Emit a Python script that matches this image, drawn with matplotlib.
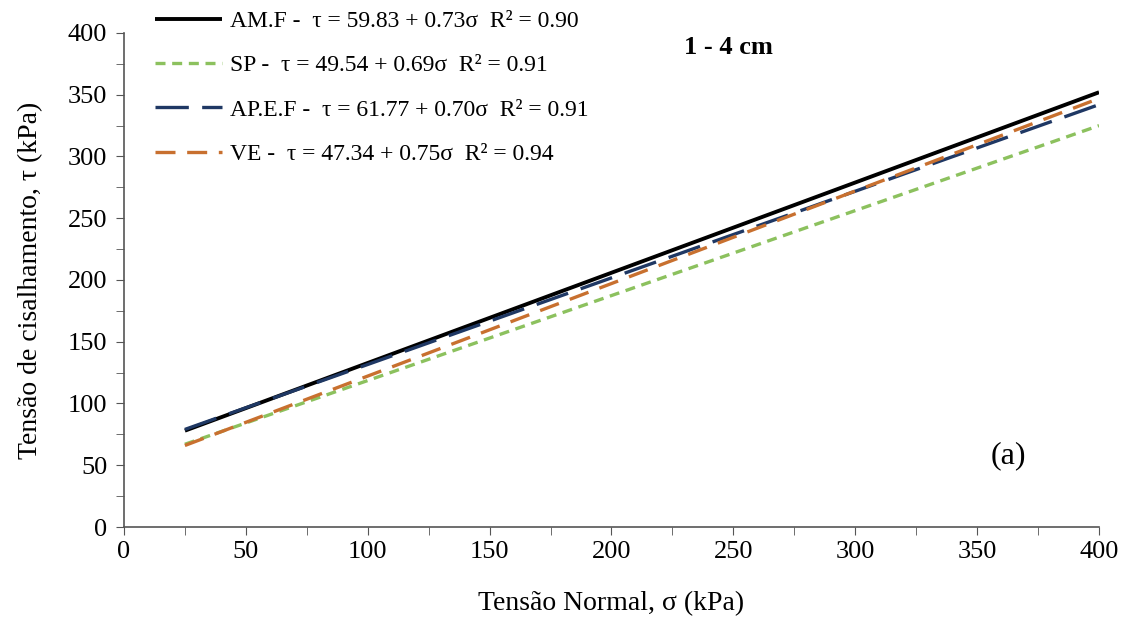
import matplotlib.pyplot as plt
from matplotlib.ticker import MultipleLocator

# normal stress (kPa) at the ends of each fitted line
sigma = [25, 400]

# shear stress (kPa) at those points
tau_amf = [78, 352]
tau_sp = [67, 325]
tau_apef = [79, 342]
tau_ve = [66, 347]

labels = [
    "AM.F -  τ = 59.83 + 0.73σ  R² = 0.90",
    "SP -  τ = 49.54 + 0.69σ  R² = 0.91",
    "AP.E.F -  τ = 61.77 + 0.70σ  R² = 0.91",
    "VE -  τ = 47.34 + 0.75σ  R² = 0.94",
]

plt.rcParams["font.family"] = ["Liberation Serif", "DejaVu Serif"]

fig = plt.figure(figsize=(11.3, 6.2), dpi=100)
ax = fig.add_axes([0.1097, 0.15, 0.8629, 0.7968])

ax.plot(sigma, tau_amf, color="black", lw=2.8, solid_capstyle="butt", label=labels[0])
ax.plot(sigma, tau_sp, color="#8CC15E", lw=2.4, dashes=(3, 2), label=labels[1])
ax.plot(sigma, tau_apef, color="#1F3864", lw=2.4, dashes=(10, 4), label=labels[2])
ax.plot(sigma, tau_ve, color="#C8702F", lw=2.4, dashes=(6, 3.5), label=labels[3])

ax.set_xlim(0, 400)
ax.set_ylim(0, 400)
ax.xaxis.set_major_locator(MultipleLocator(50))
ax.xaxis.set_minor_locator(MultipleLocator(25))
ax.yaxis.set_major_locator(MultipleLocator(50))
ax.yaxis.set_minor_locator(MultipleLocator(25))
ax.tick_params(which="both", direction="out", color="#555555", labelsize=19, length=6)
ax.tick_params(axis="x", pad=4)
ax.tick_params(axis="y", pad=6)

for side in ["top", "right"]:
    ax.spines[side].set_visible(False)
for side in ["left", "bottom"]:
    ax.spines[side].set_color("#555555")
    ax.spines[side].set_linewidth(1.2)

ax.set_xlabel("Tensão Normal, σ (kPa)", fontsize=20, labelpad=20)
ax.set_ylabel("Tensão de cisalhamento, τ (kPa)", fontsize=20, labelpad=18)

ax.text(248, 388, "1 - 4 cm", fontsize=19, fontweight="bold", ha="center", va="center")
ax.text(363, 58, "(a)", fontsize=23, ha="center", va="center")

ax.legend(loc="upper left", bbox_to_anchor=(0.032, 1.045), frameon=False,
          fontsize=17, handlelength=2.85, handletextpad=0.3,
          labelspacing=0.96, borderpad=0, borderaxespad=0)

fig.savefig("out.png", dpi=100)
